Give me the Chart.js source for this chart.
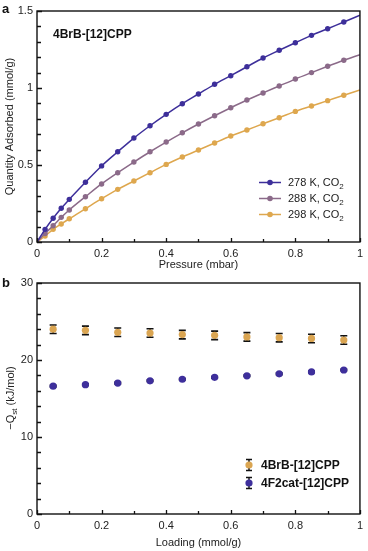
<!DOCTYPE html>
<html>
<head>
<meta charset="utf-8">
<script src="https://cdn.jsdelivr.net/npm/chart.js@4"></script>
<style>
  body { margin:0; background:#fff; font-family:"Liberation Sans", Arial, sans-serif; }
  #wrap { position:relative; width:368px; height:551px; }
  canvas { position:absolute; left:0; }
  .lbl { position:absolute; color:#111; white-space:nowrap; }
  .lbl sub { font-size:8px; vertical-align:baseline; position:relative; top:3px; }
  .leg { position:absolute; font-size:11px; color:#222; white-space:nowrap; line-height:13px; }
  .leg svg { position:absolute; left:0; top:0; }
</style>
</head>
<body>
<div id="wrap">
  <canvas id="chartA" width="368" height="272" style="top:0"></canvas>
  <canvas id="chartB" width="368" height="279" style="top:272px"></canvas>

  <div class="lbl" style="left:2px;top:1px;font-weight:bold;font-size:13px">a</div>
  <div class="lbl" style="left:2px;top:275px;font-weight:bold;font-size:13px">b</div>
  <div class="lbl" style="left:53px;top:27px;font-weight:bold;font-size:12px">4BrB-[12]CPP</div>
  <div class="lbl" style="left:10px;top:398px;font-size:11px;color:#222;transform:translate(-50%,-50%) rotate(-90deg)">&minus;Q<sub>st</sub> (kJ/mol)</div>

  <div id="legA"></div>
  <div id="legB"></div>
</div>
<script>
// panel a: CO2 isotherms
var pressure = [0, 0.025, 0.05, 0.075, 0.1, 0.15, 0.2, 0.25, 0.3, 0.35, 0.4, 0.45, 0.5, 0.55, 0.6, 0.65, 0.7, 0.75, 0.8, 0.85, 0.9, 0.95, 1];
var q278 = [0, 0.082, 0.154, 0.219, 0.277, 0.388, 0.494, 0.586, 0.675, 0.755, 0.829, 0.898, 0.961, 1.024, 1.080, 1.138, 1.195, 1.245, 1.294, 1.342, 1.385, 1.429, 1.472];
var q288 = [0, 0.055, 0.106, 0.160, 0.208, 0.294, 0.377, 0.450, 0.519, 0.586, 0.649, 0.709, 0.766, 0.820, 0.872, 0.922, 0.968, 1.013, 1.058, 1.100, 1.141, 1.180, 1.216];
var q298 = [0, 0.039, 0.082, 0.117, 0.151, 0.216, 0.281, 0.342, 0.396, 0.450, 0.504, 0.552, 0.597, 0.643, 0.688, 0.727, 0.768, 0.807, 0.848, 0.883, 0.918, 0.953, 0.987];
var isoLabels = ['278 K, CO\u2082', '288 K, CO\u2082', '298 K, CO\u2082'];
var isoColors = ['#3d2f9a', '#8b6a89', '#dea74e'];

// panel b: isosteric heat
var loading = [0.05, 0.15, 0.25, 0.35, 0.45, 0.55, 0.65, 0.75, 0.85, 0.95];
var qstBr = [24.0, 23.85, 23.6, 23.5, 23.3, 23.2, 23.0, 22.9, 22.8, 22.6];
var qstBrErr = [0.55, 0.55, 0.55, 0.55, 0.55, 0.55, 0.55, 0.55, 0.55, 0.55];
var qstF2 = [16.6, 16.8, 17.0, 17.3, 17.5, 17.75, 17.95, 18.2, 18.45, 18.7];
var qstF2Err = [0.1, 0.1, 0.1, 0.1, 0.1, 0.1, 0.1, 0.1, 0.1, 0.1];
var qstLabels = ['4BrB-[12]CPP', '4F2cat-[12]CPP'];
var qstColors = ['#daa552', '#3e2f9c'];

var FONT = "'Liberation Sans', Arial, sans-serif";

function pts(xs, ys){
  var out = [];
  for (var i = 0; i < xs.length; i++) out.push({x: xs[i], y: ys[i]});
  return out;
}
function isMult(v, m){ return Math.abs(v/m - Math.round(v/m)) < 1e-6; }

// box + inward ticks
var boxTicks = {
  id: 'boxTicks',
  afterDraw: function(chart, args, o){
    var c = chart.ctx, a = chart.chartArea;
    var xs = chart.scales.x, ys = chart.scales.y;
    c.save();
    c.strokeStyle = '#111';
    c.lineWidth = 1.3;
    c.beginPath();
    xs.ticks.forEach(function(t){
      var px = Math.round(xs.getPixelForValue(t.value)) + 0.5;
      var len = isMult(t.value, o.xMajor) ? 4 : 3;
      c.moveTo(px, a.bottom); c.lineTo(px, a.bottom - len);
    });
    ys.ticks.forEach(function(t){
      var py = Math.round(ys.getPixelForValue(t.value)) + 0.5;
      var len = isMult(t.value, o.yMajor) ? 5 : 4;
      c.moveTo(a.left, py); c.lineTo(a.left + len, py);
    });
    c.stroke();
    c.lineWidth = 1.4;
    c.strokeRect(a.left, a.top, a.right - a.left, a.bottom - a.top);
    c.restore();
  }
};

// error bars drawn under the markers
var errBars = {
  id: 'errBars',
  beforeDatasetsDraw: function(chart){
    var c = chart.ctx, xs = chart.scales.x, ys = chart.scales.y;
    c.save();
    c.strokeStyle = '#111';
    c.lineWidth = 1.6;
    chart.data.datasets.forEach(function(ds){
      if (!ds.err) return;
      ds.data.forEach(function(p, i){
        var px = xs.getPixelForValue(p.x);
        var y1 = ys.getPixelForValue(p.y + ds.err[i]);
        var y2 = ys.getPixelForValue(p.y - ds.err[i]);
        c.beginPath();
        c.moveTo(px, y1); c.lineTo(px, y2);
        c.moveTo(px - 3.5, y1); c.lineTo(px + 3.5, y1);
        c.moveTo(px - 3.5, y2); c.lineTo(px + 3.5, y2);
        c.stroke();
      });
    });
    c.restore();
  }
};

function axisX(title, pb, h){
  return {
    type: 'linear', min: 0, max: 1,
    grid: { display: false, drawTicks: false },
    border: { display: false },
    ticks: { stepSize: 0.1, padding: 5, maxRotation: 0, autoSkip: false, color: '#222',
      font: { family: FONT, size: 11 },
      callback: function(v){ return isMult(v, 0.2) ? String(Math.round(v*10)/10) : ''; } },
    title: { display: true, text: title, color: '#222', font: { family: FONT, size: 11 }, padding: { top: 0, bottom: pb } },
    afterFit: function(s){ s.height = h; }
  };
}

var isoSets = [q278, q288, q298].map(function(q, k){
  return {
    label: isoLabels[k],
    data: pts(pressure, q),
    borderColor: isoColors[k],
    backgroundColor: isoColors[k],
    borderWidth: 1.5,
    pointRadius: pressure.map(function(p){ return (p === 0 || p === 1) ? 0 : 2.7; }),
    pointBorderWidth: 0,
    cubicInterpolationMode: 'monotone'
  };
});

new Chart(document.getElementById('chartA'), {
  type: 'line',
  data: { datasets: isoSets },
  options: {
    responsive: false,
    animation: false,
    layout: { padding: { top: 11, right: 3, left: 0, bottom: 0 } },
    plugins: { legend: { display: false }, tooltip: { enabled: false }, boxTicks: { xMajor: 0.2, yMajor: 0.5 } },
    scales: {
      x: axisX('Pressure (mbar)', 0, 30),
      y: {
        type: 'linear', min: 0, max: 1.5,
        grid: { display: false, drawTicks: false },
        border: { display: false },
        ticks: { stepSize: 0.1, padding: 4, autoSkip: false, color: '#222',
          font: { family: FONT, size: 11 },
          callback: function(v){ return isMult(v, 0.5) ? String(Math.round(v*10)/10) : ''; } },
        title: { display: true, text: 'Quantity Adsorbed (mmol/g)', color: '#222', font: { family: FONT, size: 11 }, padding: { top: 3, bottom: 0 } },
        afterFit: function(s){ s.width = 37; }
      }
    }
  },
  plugins: [boxTicks]
});

var qstSets = [[qstBr, qstBrErr], [qstF2, qstF2Err]].map(function(d, k){
  return {
    label: qstLabels[k],
    data: pts(loading, d[0]),
    err: d[1],
    backgroundColor: qstColors[k],
    borderColor: qstColors[k],
    pointRadius: 3.6,
    pointBorderWidth: 0,
    showLine: false
  };
});

new Chart(document.getElementById('chartB'), {
  type: 'scatter',
  data: { datasets: qstSets },
  options: {
    responsive: false,
    animation: false,
    layout: { padding: { top: 11, right: 3, left: 0, bottom: 0 } },
    plugins: { legend: { display: false }, tooltip: { enabled: false }, boxTicks: { xMajor: 0.2, yMajor: 10 } },
    scales: {
      x: axisX('Loading (mmol/g)', 1.4, 37),
      y: {
        type: 'linear', min: 0, max: 30,
        grid: { display: false, drawTicks: false },
        border: { display: false },
        ticks: { stepSize: 2, padding: 4, autoSkip: false, color: '#222',
          font: { family: FONT, size: 11 },
          callback: function(v){ return isMult(v, 10) ? String(v) : ''; } },
        title: { display: false },
        afterFit: function(s){ s.width = 37; }
      }
    }
  },
  plugins: [boxTicks, errBars]
});

// legends
var legA = document.getElementById('legA');
isoLabels.forEach(function(l, k){
  var d = document.createElement('div');
  d.className = 'leg';
  d.style.left = '258px';
  d.style.top = (176 + k*16) + 'px';
  d.style.paddingLeft = '30px';
  d.innerHTML = '<svg width="26" height="13"><line x1="1" y1="6.5" x2="23" y2="6.5" stroke="' + isoColors[k] + '" stroke-width="1.5"/>' +
    '<circle cx="12" cy="6.5" r="2.8" fill="' + isoColors[k] + '"/></svg>' +
    l.replace('\u2082', '<sub style="font-size:8px;vertical-align:baseline;position:relative;top:3px">2</sub>');
  legA.appendChild(d);
});
var legB = document.getElementById('legB');
qstLabels.forEach(function(l, k){
  var d = document.createElement('div');
  d.className = 'leg';
  d.style.left = '244px';
  d.style.top = (457 + k*18) + 'px';
  d.style.paddingLeft = '17px';
  d.style.fontWeight = 'bold';
  d.style.fontSize = '12px';
  d.style.lineHeight = '16px';
  d.style.color = '#111';
  d.innerHTML = '<svg width="12" height="16"><path d="M5 2.5 V13.5 M2 2.5 H8 M2 13.5 H8" stroke="#111" stroke-width="1.4" fill="none"/>' +
    '<circle cx="5" cy="8" r="3.6" fill="' + qstColors[k] + '"/></svg>' + l;
  legB.appendChild(d);
});
</script>
</body>
</html>
